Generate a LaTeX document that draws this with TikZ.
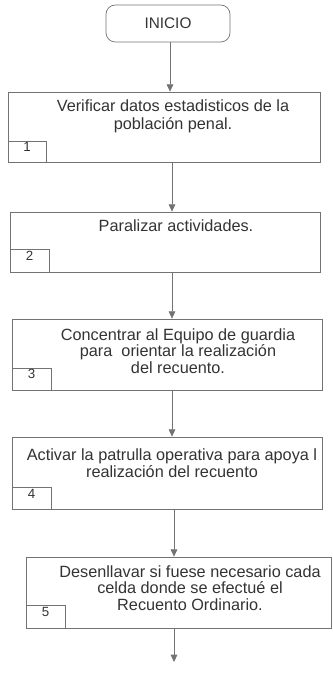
\documentclass[tikz,border=0pt]{standalone}
\usepackage{fontspec}
\setmainfont{Liberation Sans}
\usetikzlibrary{fit,arrows.meta}
\begin{document}
\begin{tikzpicture}[x=0.75pt,y=-0.75pt,
  boxline/.style={draw=black!55, line width=0.55pt},
  stepbox/.style={boxline, inner sep=0pt},
  numbox/.style={boxline, inner sep=0pt, font=\fontsize{10}{10}\selectfont, text=black!80},
  txt/.style={align=center, font=\fontsize{12.2}{12.6}\selectfont, text=black!80, inner sep=0pt},
  arr/.style={draw=black!55, line width=0.55pt, -{Triangle[width=5pt,length=5.5pt]}}
]
\useasboundingbox (0,0) rectangle (332,673);
% start
\node[boxline, rounded corners=7pt, fit={(106,5) (230,42)}, inner sep=0pt] (inicio) {};
\node[txt, font=\fontsize{11.5}{12}\selectfont] (tini) at (168,23) {INICIO};
% boxes
\node[stepbox, fit={(8,92) (320,162)}] (b1) {};
\node[numbox, fit={(8,141) (46,162)}] (n1) {1};
\node[txt, font=\fontsize{12.2}{13.2}\selectfont] (t1) at (173,116) {Verificar datos estadisticos de la\\población penal.};

\node[stepbox, fit={(10,212) (320,272)}] (b2) {};
\node[numbox, fit={(10,249) (49,272)}] (n2) {2};
\node[txt] (t2) at (176,226) {Paralizar actividades.};

\node[stepbox, fit={(12,319) (322,390)}] (b3) {};
\node[numbox, fit={(12,368) (51,390)}] (n3) {3};
\node[txt] (t3) at (178,351) {Concentrar al Equipo de guardia\\para \ orientar la realización\\del recuento.};

\node[stepbox, fit={(12,437) (322,509)}] (b4) {};
\node[numbox, fit={(12,487) (51,509)}] (n4) {4};
\node[txt] (t4) at (172,463) {Activar la patrulla operativa para apoya l\\realización del recuento};

\node[stepbox, fit={(26,557) (331,628)}] (b5) {};
\node[numbox, fit={(26,605) (65,628)}] (n5) {5};
\node[txt] (t5) at (190,588) {Desenllavar si fuese necesario cada\\celda donde se efectué el\\Recuento Ordinario.};

\coordinate (ax1) at (170,0);
\coordinate (ax2) at (172,0);
\coordinate (ax3) at (174,0);
\coordinate (endpt) at (174,662);

\draw[arr] (inicio.south -| ax1) -- (b1.north -| ax1);
\draw[arr] (b1.south -| ax2) -- (b2.north -| ax2);
\draw[arr] (b2.south -| ax2) -- (b3.north -| ax2);
\draw[arr] (b3.south -| ax2) -- (b4.north -| ax2);
\draw[arr] (b4.south -| ax3) -- (b5.north -| ax3);
\draw[arr] (b5.south -| ax3) -- (endpt);
\end{tikzpicture}
\end{document}
